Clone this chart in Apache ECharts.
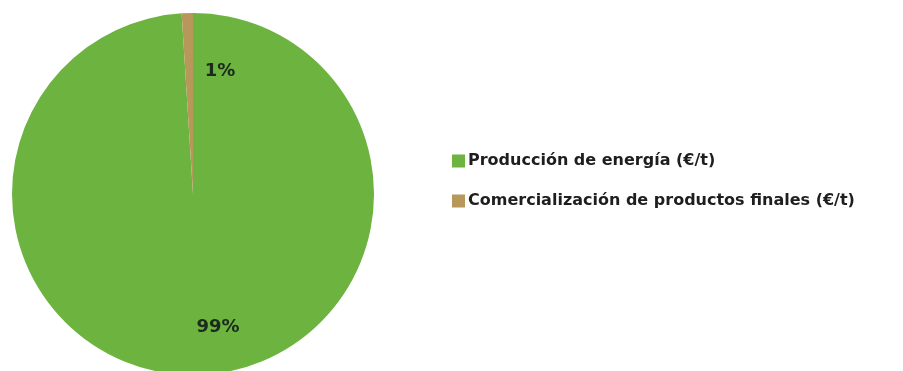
<!DOCTYPE html>
<html>
<head>
<meta charset="utf-8">
<script src="https://cdn.jsdelivr.net/npm/echarts@6/dist/echarts.min.js"></script>
<style>
  html, body { margin: 0; padding: 0; background: #fff; }
  #chart { width: 903px; height: 371px; }
</style>
</head>
<body>
<div id="chart"></div>
<script>
// Share of income by source
const categories = ['Producción de energía (€/t)', 'Comercialización de productos finales (€/t)'];
const values = [99, 1];
const colors = ['#6cb33f', '#b7985a'];

const chart = echarts.init(document.getElementById('chart'), null, { renderer: 'canvas' });

// label nudges from the default inside position, in px
const labelOffsets = [[22, 40], [30, -29]];

chart.setOption({
  animation: false,
  legend: {
    orient: 'vertical',
    left: 447,
    top: 147,
    itemWidth: 13,
    itemHeight: 13,
    itemGap: 22,
    icon: 'rect',
    textStyle: {
      fontFamily: 'DejaVu Sans',
      fontSize: 16,
      fontWeight: 'bold',
      color: '#1e1e1e',
      lineHeight: 18,
      padding: [0, 0, 0, -2]
    },
    data: categories
  },
  series: [{
    type: 'pie',
    center: [193, 194],
    radius: [0, 181],
    startAngle: 90,
    clockwise: true,
    avoidLabelOverlap: false,
    label: {
      show: true,
      position: 'inside',
      formatter: '{d}%',
      fontFamily: 'DejaVu Sans',
      fontSize: 18,
      fontWeight: 'bold',
      color: '#1c2a1c'
    },
    percentPrecision: 0,
    labelLine: { show: false },
    itemStyle: { borderWidth: 0 },
    emphasis: { disabled: true },
    data: categories.map((name, i) => ({
      name: name,
      value: values[i],
      itemStyle: { color: colors[i] },
      label: { offset: labelOffsets[i] }
    }))
  }]
});
</script>
</body>
</html>
